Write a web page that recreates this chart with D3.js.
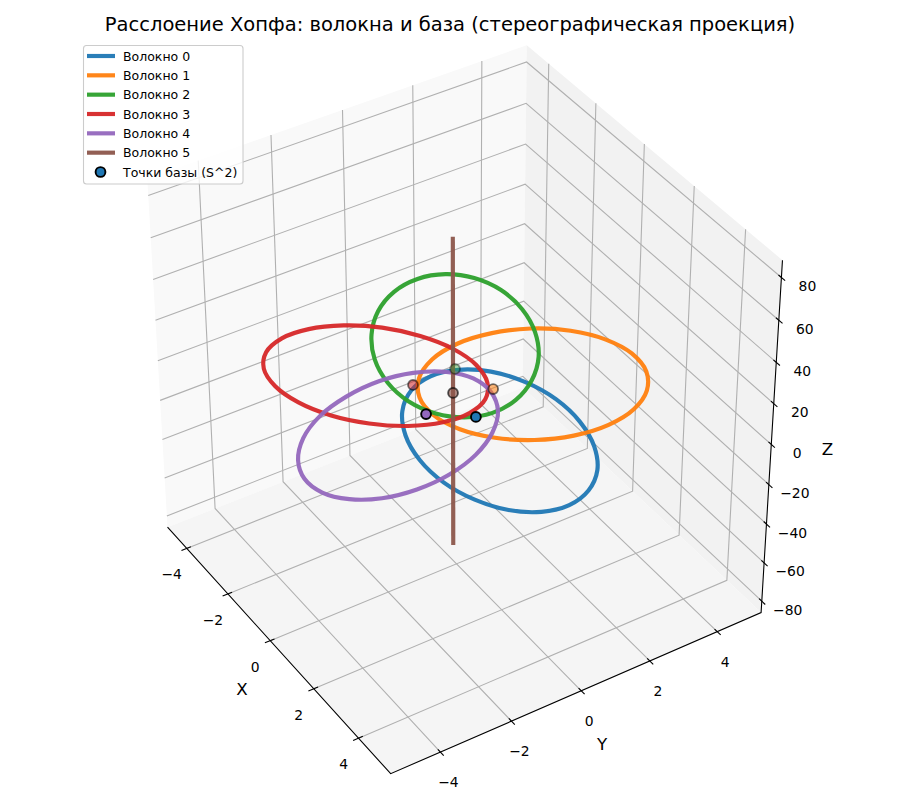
<!DOCTYPE html>
<html><head><meta charset="utf-8">
<script src="https://cdn.jsdelivr.net/npm/d3@7"></script>
<style>body{margin:0;background:#fff}text{font-family:"DejaVu Sans";fill:#000}</style>
</head><body><div id="chart"></div>
<script>
const xTicks = [-4, -2, 0, 2, 4], yTicks = [-4, -2, 0, 2, 4], zTicks = [-80, -60, -40, -20, 0, 20, 40, 60, 80];
const xLim = [-4.95, 5.4], yLim = [-5.38, 5.32], zLim = [-86, 88];

// fibre points (z stays close to 0 on this axis range)
const fiber0X = [0.39, 1.33, 2.33, 3.27, 4.03, 4.53, 4.73, 4.59, 4.14, 3.42, 2.53, 1.54, 0.60, -0.21, -0.76, -0.98, -0.84, -0.37];
const fiber0Y = [1.71, 1.97, 1.97, 1.73, 1.29, 0.69, 0.01, -0.67, -1.28, -1.74, -2.01, -2.04, -1.83, -1.40, -0.80, -0.10, 0.61, 1.24];
const fiber1X = [2.34, 1.78, 1.08, 0.31, -0.43, -1.07, -1.51, -1.71, -1.62, -1.27, -0.69, 0.05, 0.83, 1.59, 2.20, 2.62, 2.79, 2.69];
const fiber1Y = [0.67, -0.08, -0.61, -0.85, -0.77, -0.37, 0.29, 1.15, 2.10, 3.02, 3.79, 4.32, 4.54, 4.43, 4.01, 3.33, 2.48, 1.55];
const fiber2X = [-3.71, -2.95, -2.03, -1.10, -0.24, 0.43, 0.85, 0.97, 0.76, 0.28, -0.44, -1.31, -2.24, -3.11, -3.82, -4.28, -4.42, -4.22];
const fiber2Y = [2.97, 3.26, 3.27, 3.02, 2.54, 1.88, 1.14, 0.39, -0.27, -0.77, -1.07, -1.11, -0.89, -0.43, 0.21, 0.97, 1.75, 2.45];
const fiber3X = [-3.21, -2.44, -1.60, -0.77, -0.06, 0.45, 0.69, 0.65, 0.33, -0.23, -0.96, -1.79, -2.61, -3.34, -3.86, -4.13, -4.10, -3.78];
const fiber3Y = [-0.06, 0.55, 0.95, 1.08, 0.93, 0.53, -0.08, -0.81, -1.59, -2.32, -2.93, -3.33, -3.48, -3.36, -2.98, -2.37, -1.62, -0.82];
const fiber4X = [2.41, 2.25, 1.88, 1.35, 0.71, 0.05, -0.58, -1.08, -1.38, -1.47, -1.31, -0.92, -0.37, 0.29, 0.98, 1.59, 2.07, 2.35];
const fiber4Y = [-2.68, -3.54, -4.20, -4.61, -4.70, -4.47, -3.94, -3.17, -2.24, -1.26, -0.38, 0.32, 0.73, 0.80, 0.54, -0.03, -0.82, -1.74];
const fiber5X = [-0.16, -0.16];
const fiber5Y = [0.01, 0.01];
const fiber5Z = [-78, 75.5];
const baseX = [0.89, 0.22, -0.91, -0.92, 0.18, -0.16];
const baseY = [-0.03, 0.91, 0.56, -0.64, -0.98, 0.01];
const baseAlpha = [1, 0.55, 0.4, 0.55, 1, 0.65];
const fiberNames = ['Волокно 0', 'Волокно 1', 'Волокно 2', 'Волокно 3', 'Волокно 4', 'Волокно 5'];
const colors = ['#1f77b4', '#ff7f0e', '#2ca02c', '#d62728', '#9467bd', '#8c564b'];

const elev = 38, azim = -32.5, dist = 10, box = 0.55, s = 4040, cx = 460.5, cy = 400;
const rad = Math.PI / 180, sa = Math.sin(azim * rad), ca = Math.cos(azim * rad), se = Math.sin(elev * rad), ce = Math.cos(elev * rad);
const bx = d3.scaleLinear().domain(xLim).range([-box, box]),
  by = d3.scaleLinear().domain(yLim).range([-box, box]),
  bz = d3.scaleLinear().domain(zLim).range([-box, box]);

// same camera as a perspective 3d axes
const project = (x, y, z) => {
  const a = bx(x), b = by(y), c = bz(z);
  const u = -sa * a + ca * b, v = -se * ca * a - se * sa * b + ce * c, n = ce * ca * a + ce * sa * b + se * c, d = dist - n;
  return [cx + s * u / d, cy - s * v / d];
};

const svg = d3.select('#chart').append('svg').attr('width', 900).attr('height', 800);
const [x0, x1] = xLim, [y0, y1] = yLim, [z0, z1] = zLim;
const line = d3.line();
const seg = (pts, col, w) => svg.append('path').attr('d', line(pts.map(p => project(...p)))).attr('fill', 'none').attr('stroke', col).attr('stroke-width', w);
const pane = (pts, fill) => svg.append('path').attr('d', line(pts.map(p => project(...p))) + 'Z').attr('fill', fill);

pane([[x0, y0, z0], [x0, y1, z0], [x0, y1, z1], [x0, y0, z1]], '#f9f9f9');
pane([[x0, y1, z0], [x1, y1, z0], [x1, y1, z1], [x0, y1, z1]], '#f2f2f2');
pane([[x0, y0, z0], [x1, y0, z0], [x1, y1, z0], [x0, y1, z0]], '#f5f5f5');

xTicks.forEach(t => seg([[t, y0, z0], [t, y1, z0], [t, y1, z1]], '#b0b0b0', 1.1));
yTicks.forEach(t => seg([[x1, t, z0], [x0, t, z0], [x0, t, z1]], '#b0b0b0', 1.1));
zTicks.forEach(t => seg([[x0, y0, t], [x0, y1, t], [x1, y1, t]], '#b0b0b0', 1.1));

seg([[x0, y0, z0], [x1, y0, z0], [x1, y1, z0], [x1, y1, z1]], '#000', 1.1);

const tickLabel = (t, p, dx, dy) => svg.append('text').attr('x', p[0] + dx).attr('y', p[1] + dy)
  .attr('text-anchor', 'middle').attr('dominant-baseline', 'central').attr('font-size', 13.9)
  .text(String(t).replace('-', '\u2212'));

xTicks.forEach(t => {
  seg([[t, y0 - 0.15, z0], [t, y0 + 0.12, z0]], '#000', 1.1);
  tickLabel(t, project(t, y0, z0), -15, 26);
});
yTicks.forEach(t => {
  seg([[x1 + 0.14, t, z0], [x1 - 0.11, t, z0]], '#000', 1.1);
  tickLabel(t, project(x1, t, z0), 8, 30);
});
zTicks.forEach(t => {
  seg([[x1 + 0.14, y1, t], [x1 - 0.11, y1, t]], '#000', 1.1);
  tickLabel(t, project(x1, y1, t), 26, 8.5);
});

const axisLabel = (txt, p, dx, dy) => svg.append('text').attr('x', p[0] + dx).attr('y', p[1] + dy)
  .attr('text-anchor', 'middle').attr('dominant-baseline', 'central').attr('font-size', 16.7).text(txt);
axisLabel('X', project((x0 + x1) / 2, y0, z0), -33, 43);
axisLabel('Y', project(x1, (y0 + y1) / 2, z0), 22, 53);
axisLabel('Z', project(x1, y1, (z0 + z1) / 2), 56, 7);

// closed fibres
const ring = d3.line().curve(d3.curveCatmullRomClosed.alpha(0.5));
const fibers = [[fiber0X, fiber0Y], [fiber1X, fiber1Y], [fiber2X, fiber2Y], [fiber3X, fiber3Y], [fiber4X, fiber4Y]];
fibers.forEach((f, i) => {
  svg.append('path').attr('d', ring(f[0].map((x, j) => project(x, f[1][j], 0))))
    .attr('fill', 'none').attr('stroke', colors[i]).attr('stroke-width', 4.17).attr('stroke-opacity', 0.95);
});
svg.append('path').attr('d', line(fiber5Z.map((z, j) => project(fiber5X[j], fiber5Y[j], z))))
  .attr('fill', 'none').attr('stroke', colors[5]).attr('stroke-width', 4.17).attr('stroke-opacity', 0.95);

// base points, far ones fade out
d3.range(baseX.length).sort((a, b) => baseAlpha[a] - baseAlpha[b]).forEach(i => {
  const p = project(baseX[i], baseY[i], 0);
  svg.append('circle').attr('cx', p[0]).attr('cy', p[1]).attr('r', 4.9)
    .attr('fill', colors[i]).attr('fill-opacity', baseAlpha[i])
    .attr('stroke', '#000').attr('stroke-opacity', baseAlpha[i]).attr('stroke-width', 1.9);
});

svg.append('text').attr('x', 450).attr('y', 24).attr('text-anchor', 'middle').attr('dominant-baseline', 'central')
  .attr('font-size', 19.5).text('Расслоение Хопфа: волокна и база (стереографическая проекция)');

// legend
const legendY = d3.scalePoint().domain(d3.range(7)).range([56, 172]);
const legend = svg.append('g');
legend.append('rect').attr('x', 83.5).attr('y', 45.5).attr('width', 159.5).attr('height', 138.5).attr('rx', 3)
  .attr('fill', '#fff').attr('fill-opacity', 0.8).attr('stroke', '#ccc').attr('stroke-width', 1.1);
fiberNames.forEach((name, i) => {
  legend.append('line').attr('x1', 87).attr('x2', 115).attr('y1', legendY(i)).attr('y2', legendY(i))
    .attr('stroke', colors[i]).attr('stroke-width', 4.17).attr('stroke-opacity', 0.95);
  legend.append('text').attr('x', 123).attr('y', legendY(i)).attr('dominant-baseline', 'central').attr('font-size', 12.5).text(name);
});
legend.append('circle').attr('cx', 100.5).attr('cy', legendY(6)).attr('r', 4.9).attr('fill', colors[0]).attr('stroke', '#000').attr('stroke-width', 1.9);
legend.append('text').attr('x', 123).attr('y', legendY(6)).attr('dominant-baseline', 'central').attr('font-size', 12.5).text('Точки базы (S^2)');
</script></body></html>
